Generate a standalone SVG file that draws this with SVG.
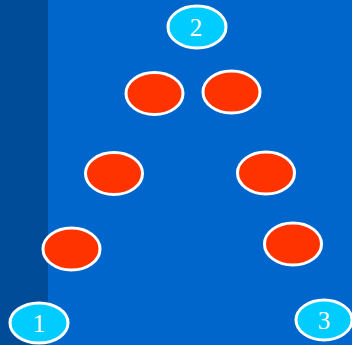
<svg xmlns="http://www.w3.org/2000/svg" width="352" height="345" viewBox="0 0 352 345">
<style>
.red{fill:#FF3300;stroke:#FFFFFF;stroke-width:3}
.cyan{fill:#00CCFF;stroke:#FFFFFF;stroke-width:3}
.lbl{font-family:"Liberation Serif",serif;font-size:25px;fill:#FFFFFF;text-anchor:middle}
</style>
<rect x="0" y="0" width="352" height="345" fill="#0066CC"/>
<rect x="0" y="0" width="48" height="345" fill="#004C99"/>
<g id="connectors"></g>
<g id="n2"><ellipse class="cyan" cx="197" cy="27" rx="29" ry="21"/><text class="lbl" x="196" y="36">2</text></g>
<g id="n1"><ellipse class="cyan" cx="39" cy="323" rx="29" ry="20"/><text class="lbl" x="39" y="332">1</text></g>
<g id="n3"><ellipse class="cyan" cx="324" cy="320" rx="28" ry="20"/><text class="lbl" x="324" y="329">3</text></g>
<g id="r1"><ellipse class="red" cx="154.5" cy="93.5" rx="28.5" ry="21"/></g>
<g id="r2"><ellipse class="red" cx="231.5" cy="92" rx="28.5" ry="21"/></g>
<g id="r3"><ellipse class="red" cx="114" cy="173.5" rx="28.5" ry="21"/></g>
<g id="r4"><ellipse class="red" cx="266" cy="173" rx="28.5" ry="21"/></g>
<g id="r5"><ellipse class="red" cx="71.5" cy="249" rx="28.5" ry="21"/></g>
<g id="r6"><ellipse class="red" cx="293" cy="244" rx="28.5" ry="21"/></g>
</svg>
